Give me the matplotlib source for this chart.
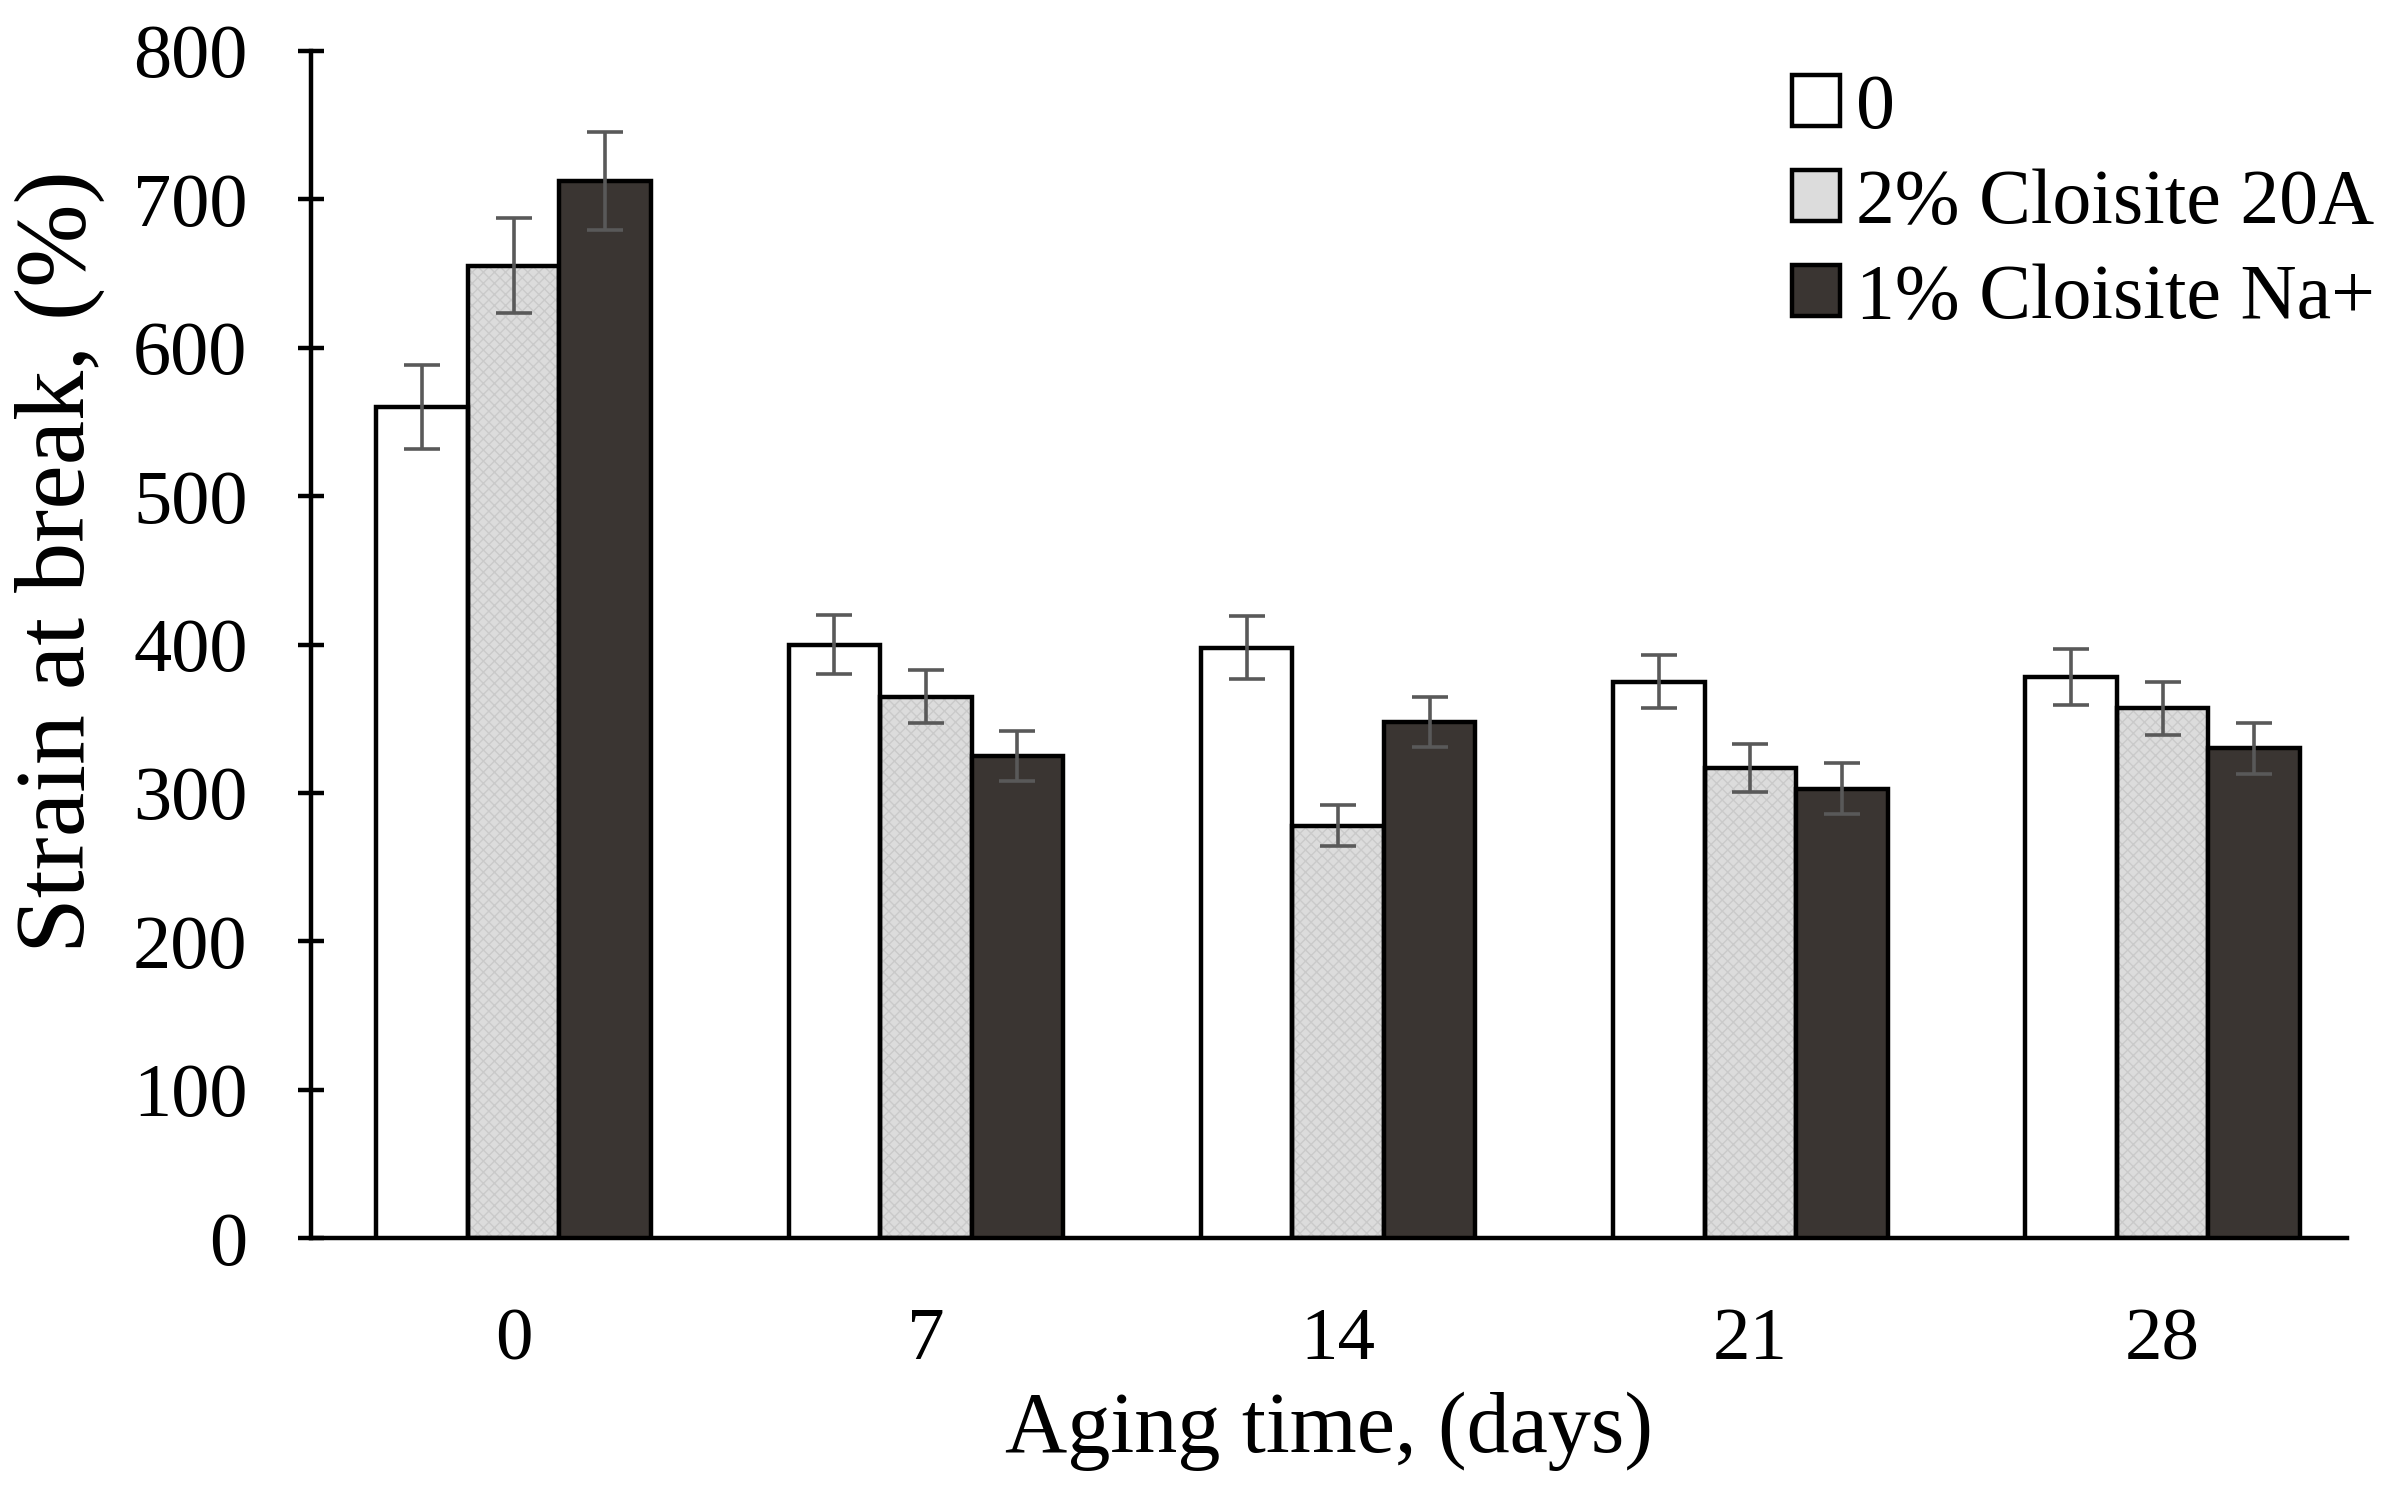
import matplotlib
matplotlib.use("Agg")
import matplotlib.pyplot as plt
import numpy as np

plt.rcParams['font.family'] = ['Liberation Serif', 'DejaVu Serif']
plt.rcParams['hatch.linewidth'] = 1.0

categories = ["0", "7", "14", "21", "28"]
series_names = ["0", "2% Cloisite 20A", "1% Cloisite Na+"]
values_0 = [560, 400, 398, 375, 378]
values_20a = [655, 365, 278, 317, 357]
values_na = [712, 325, 348, 303, 330]
err_0 = [28, 20, 21, 18, 19]
err_20a = [32, 18, 14, 16, 18]
err_na = [33, 17, 17, 17, 17]
yticks = [0, 100, 200, 300, 400, 500, 600, 700, 800]

fig = plt.figure(figsize=(23.9, 14.92), dpi=100)
ax = fig.add_axes([0.130, 0.170, 0.852, 0.796])

x = np.arange(len(categories))
w = 0.222
faces = ["white", "#dcdcdc", "#3a3532"]
vals = [values_0, values_20a, values_na]
errs = [err_0, err_20a, err_na]
handles = []
for i in range(3):
    pos = x + (i - 1) * w
    if i == 1:
        ax.bar(pos, vals[i], w, color="#dcdcdc", edgecolor="#cacaca",
               hatch="xxx", linewidth=0, zorder=2)
        ax.bar(pos, vals[i], w, facecolor="none", edgecolor="black",
               linewidth=3.2, zorder=3)
        h = ax.bar([0], [0], 0, color="#dcdcdc", edgecolor="black", linewidth=3.2)
    else:
        h = ax.bar(pos, vals[i], w, color=faces[i], edgecolor="black",
                   linewidth=3.2, zorder=3)
    ax.errorbar(pos, vals[i], yerr=errs[i], fmt="none", ecolor="#595959",
                elinewidth=2.6, capsize=13, capthick=2.6, zorder=4)
    handles.append(h)

ax.set_xlim(-0.492, 4.447)
ax.set_ylim(0, 800)
ax.set_yticks(yticks)
ax.set_xticks(x)
ax.set_xticklabels(categories)
for s in ["top", "right"]:
    ax.spines[s].set_visible(False)
ax.spines["left"].set_linewidth(3.2)
ax.spines["bottom"].set_linewidth(3.2)
ax.tick_params(axis="y", direction="inout", length=19, width=3.2,
               labelsize=55, pad=36)
ax.tick_params(axis="x", length=0, labelsize=54, pad=50)
ax.set_ylabel("Strain at break, (%)", fontsize=72)
ax.yaxis.set_label_coords(-0.101, 0.57)
ax.set_xlabel("Aging time, (days)", fontsize=62, labelpad=12)

leg = ax.legend(handles, series_names, loc="upper right",
                bbox_to_anchor=(1.029, 1.007), frameon=False, fontsize=56,
                handlelength=0.62, handleheight=0.62, handletextpad=0.2,
                labelspacing=0.3, borderaxespad=0.0)

fig.savefig("out.png", dpi=100)
